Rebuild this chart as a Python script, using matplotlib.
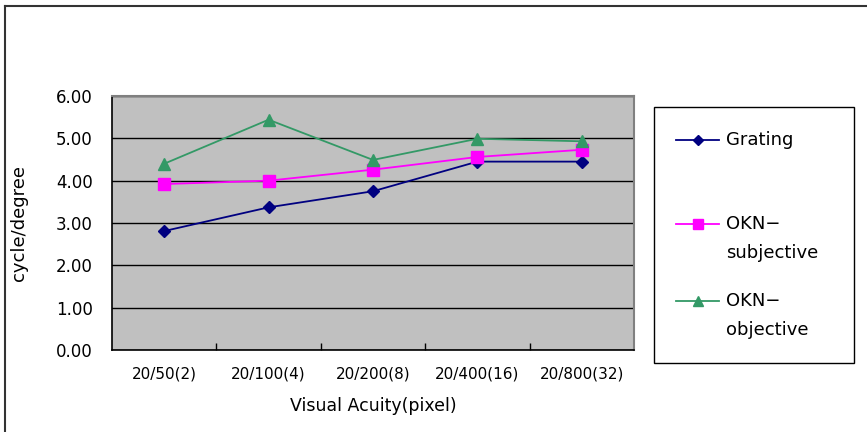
import matplotlib
matplotlib.use("Agg")
import matplotlib.pyplot as plt
from matplotlib.lines import Line2D
from matplotlib.patches import Rectangle

plt.rcParams['font.family'] = ['DejaVu Sans']

categories = ["20/50(2)", "20/100(4)", "20/200(8)", "20/400(16)", "20/800(32)"]
grating = [2.81, 3.37, 3.75, 4.45, 4.45]
okn_subjective = [3.92, 4.00, 4.26, 4.56, 4.73]
okn_objective = [4.40, 5.44, 4.49, 4.99, 4.93]
series_labels = [["Grating"], ["OKN\u2212", "subjective"], ["OKN\u2212", "objective"]]
y_ticks = [0, 1, 2, 3, 4, 5, 6]
y_tick_labels = ["0.00", "1.00", "2.00", "3.00", "4.00", "5.00", "6.00"]

W, H = 867, 432
fig = plt.figure(figsize=(W / 100, H / 100), dpi=100)

def fx(px):
    return px / W

def fy(py):
    return 1 - py / H

# outer chart border (top and left visible)
fig.add_artist(Line2D([fx(5), fx(866)], [fy(6), fy(6)], color="#333333", lw=1.5))
fig.add_artist(Line2D([fx(5), fx(5)], [fy(6), fy(432)], color="#333333", lw=1.5))

ax = fig.add_axes([fx(112), fy(350), fx(634) - fx(112), fy(96) - fy(350)])
ax.set_facecolor("#C0C0C0")
x = list(range(len(categories)))

styles = [
    dict(color="#000080", marker="D", ms=6),
    dict(color="#FF00FF", marker="s", ms=8),
    dict(color="#339966", marker="^", ms=9),
]
data = [grating, okn_subjective, okn_objective]
for vals, st in zip(data, styles):
    ax.plot(x, vals, color=st["color"], marker=st["marker"], ms=st["ms"],
            lw=1.3, mec=st["color"], mfc=st["color"], zorder=3, clip_on=False)

ax.set_xlim(-0.5, len(categories) - 0.5)
ax.set_ylim(0, 6)
ax.set_yticks(y_ticks)
ax.set_yticklabels(y_tick_labels, fontsize=12)
ax.yaxis.grid(True, color="black", lw=1)
ax.set_axisbelow(True)
ax.tick_params(axis="y", length=0, pad=14)

ax.set_xticks(x)
ax.set_xticklabels(categories, fontsize=11)
ax.set_xticks([i + 0.5 for i in range(len(categories) - 1)], minor=True)
ax.tick_params(axis="x", which="major", length=0, pad=12)
ax.tick_params(axis="x", which="minor", direction="in", length=5, width=1, color="black")

for s in ["left", "bottom"]:
    ax.spines[s].set_color("black")
    ax.spines[s].set_linewidth(1.2)
for s in ["top", "right"]:
    ax.spines[s].set_color("#808080")
    ax.spines[s].set_linewidth(1.5)

ax.set_xlabel("Visual Acuity(pixel)", fontsize=12.5, labelpad=11)
ax.set_ylabel("cycle/degree", fontsize=13, labelpad=20)

# legend box
fig.add_artist(Rectangle((fx(654), fy(363)), fx(854) - fx(654), fy(107) - fy(363),
                         facecolor="white", edgecolor="black", lw=1.0))
legend_y = [140, 224, 301]
for lines, st, ly in zip(series_labels, styles, legend_y):
    fig.add_artist(Line2D([fx(676), fx(719)], [fy(ly), fy(ly)], color=st["color"], lw=1.3))
    fig.add_artist(Line2D([fx(697.5)], [fy(ly)], color=st["color"], marker=st["marker"],
                          ms=st["ms"] * 0.85, mfc=st["color"], mec=st["color"]))
    for k, txt in enumerate(lines):
        fig.text(fx(726), fy(ly + 29 * k), txt, fontsize=13, va="center", ha="left")

fig.savefig("out.png", dpi=100)
